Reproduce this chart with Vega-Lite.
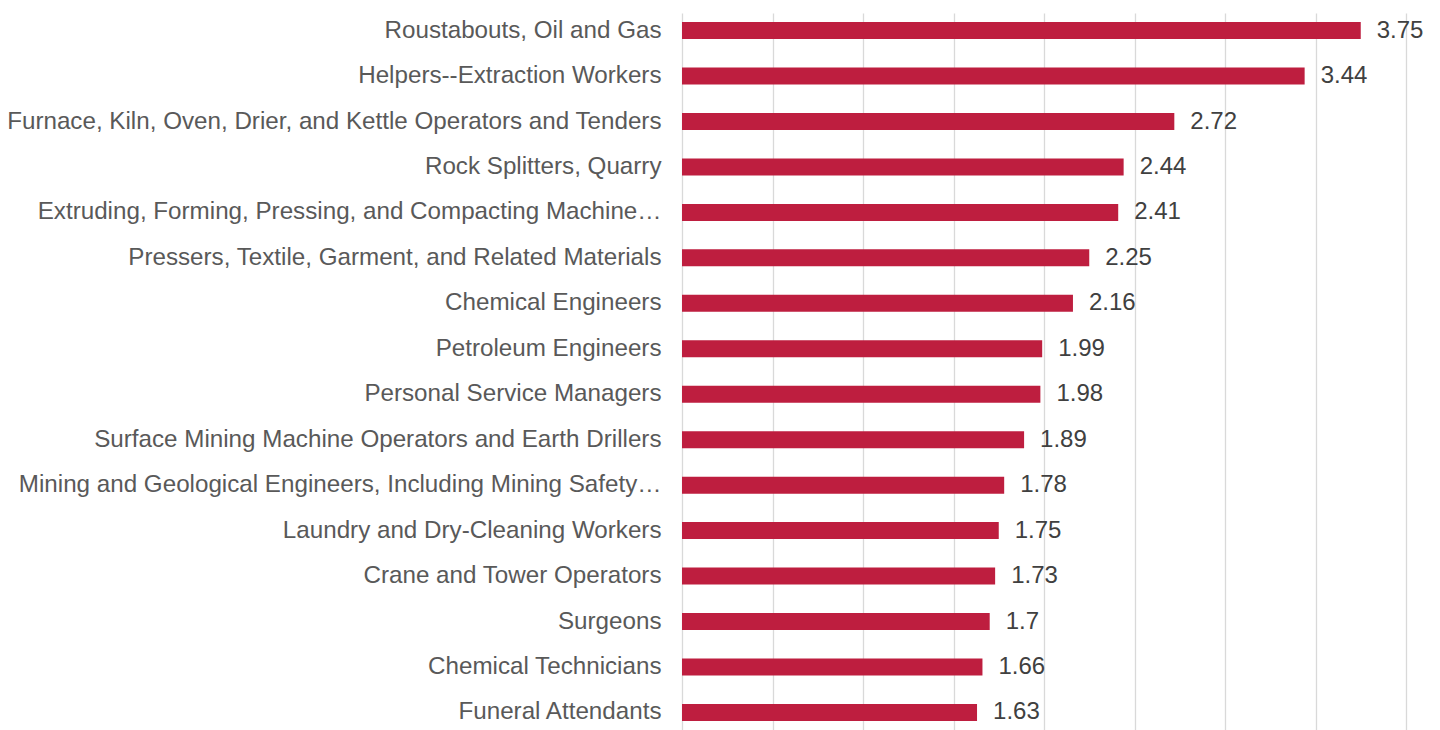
{
  "$schema": "https://vega.github.io/schema/vega-lite/v6.json",
  "width": 724,
  "height": 717,
  "autosize": "none",
  "padding": {"left": 682, "top": 13, "right": 34, "bottom": 0},
  "background": "white",
  "config": {"view": {"stroke": null}, "font": "Liberation Sans"},
  "data": {"values": [
    {"occupation": "Roustabouts, Oil and Gas", "value": 3.75},
    {"occupation": "Helpers--Extraction Workers", "value": 3.44},
    {"occupation": "Furnace, Kiln, Oven, Drier, and Kettle Operators and Tenders", "value": 2.72},
    {"occupation": "Rock Splitters, Quarry", "value": 2.44},
    {"occupation": "Extruding, Forming, Pressing, and Compacting Machine…", "value": 2.41},
    {"occupation": "Pressers, Textile, Garment, and Related Materials", "value": 2.25},
    {"occupation": "Chemical Engineers", "value": 2.16},
    {"occupation": "Petroleum Engineers", "value": 1.99},
    {"occupation": "Personal Service Managers", "value": 1.98},
    {"occupation": "Surface Mining Machine Operators and Earth Drillers", "value": 1.89},
    {"occupation": "Mining and Geological Engineers, Including Mining Safety…", "value": 1.78},
    {"occupation": "Laundry and Dry-Cleaning Workers", "value": 1.75},
    {"occupation": "Crane and Tower Operators", "value": 1.73},
    {"occupation": "Surgeons", "value": 1.7},
    {"occupation": "Chemical Technicians", "value": 1.66},
    {"occupation": "Funeral Attendants", "value": 1.63}
  ]},
  "encoding": {
    "y": {
      "field": "occupation", "type": "nominal", "sort": null,
      "scale": {"paddingInner": 0.626, "paddingOuter": 0.2},
      "axis": {"title": null, "ticks": false, "domain": false, "labelFontSize": 24.2, "labelColor": "#595959", "labelPadding": 21, "labelLimit": 700,
        "encode": {"labels": {"update": {"x": {"signal": "indexof(datum.label, '…') >= 0 ? -1 : -21"}}}}}
    },
    "x": {
      "field": "value", "type": "quantitative",
      "scale": {"domain": [0, 4], "nice": false},
      "axis": {"title": null, "labels": false, "ticks": false, "domain": false, "values": [0, 0.5, 1, 1.5, 2, 2.5, 3, 3.5, 4], "grid": true, "gridColor": "#d9d9d9", "gridWidth": 1.3}
    }
  },
  "layer": [
    {"mark": {"type": "bar", "color": "#be1e3f"}},
    {"mark": {"type": "text", "align": "left", "baseline": "middle", "dx": 16, "fontSize": 24, "color": "#404040"},
     "encoding": {"text": {"field": "value", "type": "quantitative"}}}
  ]
}
